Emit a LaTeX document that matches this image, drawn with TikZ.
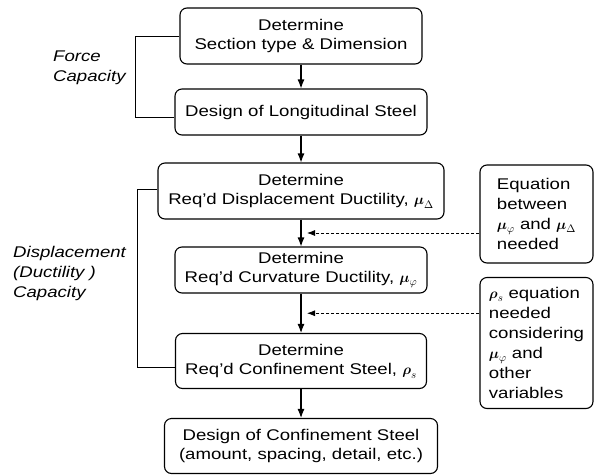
\documentclass[tikz,border=0pt]{standalone}
\usepackage{amsmath}
\usepackage{fontspec}
\setmainfont{Liberation Sans}[FakeStretch=1.2]
\usepackage{tikz}
\usetikzlibrary{arrows.meta}
\usetikzlibrary{calc}

\begin{document}
\begin{tikzpicture}[x=1pt, y=-1pt,
				block/.style={rectangle, draw, line width=1.1pt, rounded corners=7pt, inner sep=0pt, align=center, font=\fontsize{15.5}{19.5}\selectfont},
				note/.style={block, align=left, font=\fontsize{15.5}{20}\selectfont},
				lbl/.style={inner sep=0pt, align=left, font=\fontsize{15.5}{20}\selectfont\itshape},
				arrow/.style={-{Latex[length=9pt,width=7pt]}, line width=1.1pt},
				dasharrow/.style={-{Latex[length=8pt,width=6pt]}, line width=0.8pt, dash pattern=on 3pt off 2pt},
				bracket/.style={line width=1pt}]

					\useasboundingbox (0,0) rectangle (595,475);

					% main column
					\node[block, minimum width=242pt, minimum height=56pt] (sect) at (301,36) {Determine\\Section type \& Dimension};
					\node[block, minimum width=252pt, minimum height=46pt] (long) at (301,112) {Design of Longitudinal Steel};
					\node[block, minimum width=286pt, minimum height=56pt] (disp) at (301,191) {Determine\\Req'd Displacement Ductility, $\boldsymbol{\mu}_{\Delta}$};
					\node[block, minimum width=252pt, minimum height=46pt] (curv) at (301,270) {Determine\\Req'd Curvature Ductility, $\boldsymbol{\mu}_{\varphi}$};
					\node[block, minimum width=251pt, minimum height=55pt] (conf) at (301,361) {Determine\\Req'd Confinement Steel, $\boldsymbol{\rho}_s$};
					\node[block, minimum width=273pt, minimum height=55pt] (desg) at (301,446) {Design of Confinement Steel\\(amount, spacing, detail, etc.)};

					% side notes
					\node[note, minimum width=113pt, minimum height=98pt] (eqbox) at (536.5,214) {Equation\\between\\$\boldsymbol{\mu}_{\varphi}$ and $\boldsymbol{\mu}_{\Delta}$\\needed};
					\node[note, minimum width=113pt, minimum height=131pt] (rhobox) at (536.5,343) {$\boldsymbol{\rho}_s$ equation\\needed\\considering\\$\boldsymbol{\mu}_{\varphi}$ and\\other\\variables};

					\node[lbl, anchor=north west] (force) at (53,51) {Force\\Capacity};
					\node[lbl, anchor=north west] (dcap) at (13,246) {Displacement\\(Ductility )\\Capacity};

					\draw (sect.south) edge [arrow] (long.north);
					\draw (long.south) edge [arrow] (disp.north);
					\draw (disp.south) edge [arrow] (curv.north);
					\draw (curv.south) edge [arrow] (conf.north);
					\draw (conf.south) edge [arrow] (desg.north);

					\coordinate (m1) at ($(disp.south)!0.5!(curv.north)$);
					\coordinate (m2) at ($(curv.south)!0.5!(conf.north)$);
					\draw[dasharrow] (eqbox.west |- m1) -- ([xshift=6pt]m1);
					\draw[dasharrow] (rhobox.west |- m2) -- ([xshift=6pt]m2);

					\coordinate (fcx) at (135,0);
					\coordinate (dcx) at (137,0);
					\draw[bracket] (sect.west) -- (sect.west -| fcx) |- ([yshift=-5pt]long.west);
					\draw[bracket] ([yshift=2pt]disp.west) -- ([yshift=2pt]disp.west -| dcx) |- ([yshift=-6pt]conf.west);
				\end{tikzpicture}
\end{document}
